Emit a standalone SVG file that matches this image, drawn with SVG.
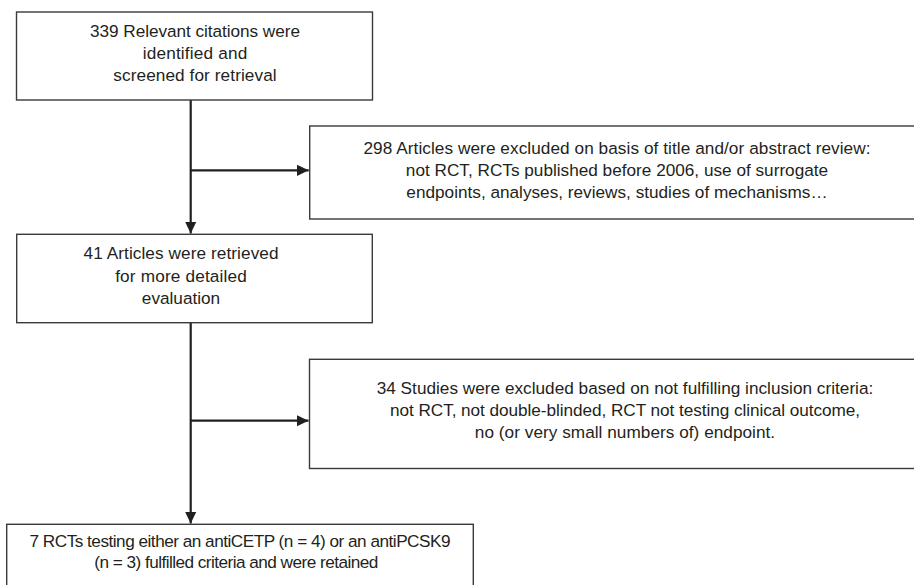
<svg xmlns="http://www.w3.org/2000/svg" width="914" height="585" viewBox="0 0 914 585">
<style>
.box{fill:#fff;stroke:#3a3a3a;stroke-width:1.4}
.t{font-family:"Liberation Sans",Arial,sans-serif;font-size:17.2px;fill:#231f20;text-anchor:middle}
.c{fill:none;stroke:#231f20;stroke-width:2.2}
</style>
<defs>
<marker id="ah" markerUnits="userSpaceOnUse" markerWidth="12" markerHeight="12" viewBox="0 0 10 10" refX="10" refY="5" orient="auto">
<path d="M0,0.2 L10,5 L0,9.8 Z" fill="#231f20"/>
</marker>
</defs>
<rect width="914" height="585" fill="#fff"/>
<g id="connectors">
<path class="c" d="M190.7,100 V233.5" marker-end="url(#ah)"/>
<path class="c" d="M190.7,170.3 H308.7" marker-end="url(#ah)"/>
<path class="c" d="M190.7,322.7 V523.5" marker-end="url(#ah)"/>
<path class="c" d="M190.7,420.7 H308.5" marker-end="url(#ah)"/>
</g>
<g id="n1">
<rect class="box" x="16.5" y="12" width="356" height="88"/>
<text class="t" x="195" y="36.7" textLength="210">339 Relevant citations were</text>
<text class="t" x="195" y="58.7" textLength="104.7">identified and</text>
<text class="t" x="195" y="81" textLength="163.3">screened for retrieval</text>
</g>
<g id="n2">
<rect class="box" x="309.7" y="126" width="610" height="93"/>
<text class="t" x="617" y="154.3" textLength="507">298 Articles were excluded on basis of title and/or abstract review:</text>
<text class="t" x="617" y="176">not RCT, RCTs published before 2006, use of surrogate</text>
<text class="t" x="617" y="198">endpoints, analyses, reviews, studies of mechanisms…</text>
</g>
<g id="n3">
<rect class="box" x="16.7" y="234.3" width="355.6" height="88.4"/>
<text class="t" x="181" y="259.3" textLength="195">41 Articles were retrieved</text>
<text class="t" x="181" y="282" textLength="131.7">for more detailed</text>
<text class="t" x="181" y="304" textLength="78.3">evaluation</text>
</g>
<g id="n4">
<rect class="box" x="309.5" y="359.3" width="610" height="109.2"/>
<text class="t" x="625" y="394.3" textLength="496.6">34 Studies were excluded based on not fulfilling inclusion criteria:</text>
<text class="t" x="625" y="415.5" textLength="470">not RCT, not double-blinded, RCT not testing clinical outcome,</text>
<text class="t" x="625" y="438.3" textLength="300.3">no (or very small numbers of) endpoint.</text>
</g>
<g id="n5">
<rect class="box" x="6.7" y="524.3" width="466.6" height="80"/>
<text class="t" x="240" y="547" textLength="421">7 RCTs testing either an antiCETP (n = 4) or an antiPCSK9</text>
<text class="t" x="236.3" y="567.5" textLength="284">(n = 3) fulfilled criteria and were retained</text>
</g>
</svg>
